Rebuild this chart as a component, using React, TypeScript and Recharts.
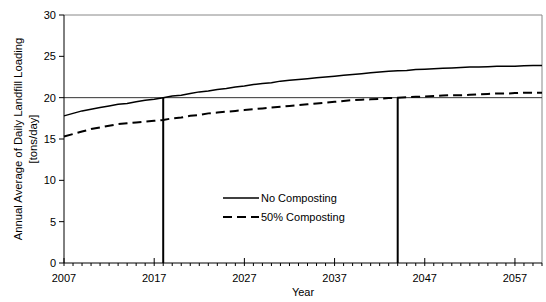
import React from 'react'
import {
  LineChart,
  Line,
  XAxis,
  YAxis,
  ReferenceLine,
} from 'recharts'

document.body.style.margin = '0'

const years = Array.from({ length: 54 }, (_, i) => 2007 + i)

const noComposting = [
  17.8, 18.1, 18.4, 18.6, 18.8, 19.0, 19.2, 19.3, 19.5, 19.7,
  19.8, 20.0, 20.2, 20.3, 20.5, 20.7, 20.8, 21.0, 21.1, 21.3,
  21.4, 21.6, 21.7, 21.8, 22.0, 22.1, 22.2, 22.3, 22.4, 22.5,
  22.6, 22.7, 22.8, 22.9, 23.0, 23.1, 23.2, 23.25, 23.3, 23.4,
  23.45, 23.5, 23.55, 23.6, 23.65, 23.7, 23.7, 23.75, 23.8, 23.8,
  23.8, 23.85, 23.9, 23.9,
]

const halfComposting = [
  15.3, 15.6, 15.9, 16.2, 16.4, 16.6, 16.8, 16.9, 17.0, 17.1,
  17.2, 17.3, 17.5, 17.6, 17.8, 17.9, 18.1, 18.2, 18.3, 18.4,
  18.5, 18.6, 18.7, 18.8, 18.9, 19.0, 19.1, 19.2, 19.3, 19.4,
  19.5, 19.6, 19.7, 19.75, 19.8, 19.85, 19.95, 20.0, 20.05, 20.1,
  20.15, 20.2, 20.25, 20.3, 20.3, 20.35, 20.4, 20.45, 20.5, 20.5,
  20.55, 20.6, 20.6, 20.6,
]

const yTicks = [0, 5, 10, 15, 20, 25, 30]
const xLabels = [2007, 2017, 2027, 2037, 2047, 2057]
const targetLoad = 20
const crossYears = [2018, 2044]

const data = years.map((year, i) => ({
  year,
  none: noComposting[i],
  half: halfComposting[i],
}))

const font = 'Arial, "Liberation Sans", sans-serif'

function XTick({ x, y, payload }: any) {
  const major = xLabels.includes(payload.value)
  return (
    <g>
      <line x1={x} x2={x} y1={major ? y - 5 : y} y2={y + 3} stroke="#000" />
      {major && (
        <text x={x} y={y + 19} textAnchor="middle" fontSize={11} fontFamily={font} fill="#000">
          {payload.value}
        </text>
      )}
    </g>
  )
}

function YLabel({ viewBox }: any) {
  const cy = viewBox.y + viewBox.height / 2
  return (
    <g fontSize={11.3} fontFamily={font} fill="#000" textAnchor="middle">
      <text transform={`translate(22, ${cy}) rotate(-90)`}>Annual Average of Daily Landfill Loading</text>
      <text transform={`translate(37, ${cy}) rotate(-90)`}>[tons/day]</text>
    </g>
  )
}

// legend sits inside the plot, so keep it out of the chart's layout
function LegendBox() {
  const rows = [
    { label: 'No Composting', dash: undefined },
    { label: '50% Composting', dash: '9 5' },
  ]
  return (
    <div style={{ position: 'absolute', left: 223, top: 189, fontFamily: font, fontSize: 11, color: '#000' }}>
      {rows.map((r) => (
        <div key={r.label} style={{ display: 'flex', alignItems: 'center', height: 18.5 }}>
          <svg width={38} height={6}>
            <line x1={0} x2={36} y1={3} y2={3} stroke="#000" strokeWidth={r.dash ? 2 : 1.5} strokeDasharray={r.dash} />
          </svg>
          <span>{r.label}</span>
        </div>
      ))}
    </div>
  )
}

export default function App() {
  return (
    <div style={{ position: 'relative', width: 546, height: 302 }}>
      <LineChart width={546} height={302} data={data} margin={{ top: 15, right: 4, bottom: 0, left: 0 }}>
        <ReferenceLine y={30} stroke="#888" />
        <ReferenceLine x={2060} stroke="#888" />
        <ReferenceLine y={targetLoad} stroke="#333" />
        {crossYears.map((yr) => (
          <ReferenceLine
            key={yr}
            segment={[{ x: yr, y: 0 }, { x: yr, y: targetLoad }]}
            stroke="#000"
            strokeWidth={2}
          />
        ))}
        <XAxis
          dataKey="year"
          type="number"
          domain={[2007, 2060]}
          ticks={years}
          interval={0}
          height={39}
          tickSize={0}
          tickMargin={0}
          tickLine={false}
          tick={<XTick />}
          axisLine={{ stroke: '#000' }}
          label={{ value: 'Year', position: 'insideBottom', offset: 6, fontSize: 11, fontFamily: font, fill: '#000' }}
        />
        <YAxis
          domain={[0, 30]}
          ticks={yTicks}
          width={64}
          tickSize={5}
          tickMargin={3}
          tick={{ fontSize: 11, fontFamily: font, fill: '#000' }}
          tickLine={{ stroke: '#000' }}
          axisLine={{ stroke: '#000' }}
          label={{ content: <YLabel /> }}
        />
        <Line dataKey="none" name="No Composting" stroke="#000" strokeWidth={1.5} dot={false} isAnimationActive={false} />
        <Line dataKey="half" name="50% Composting" stroke="#000" strokeWidth={2} strokeDasharray="9 5" dot={false} isAnimationActive={false} />
      </LineChart>
      <LegendBox />
    </div>
  )
}
